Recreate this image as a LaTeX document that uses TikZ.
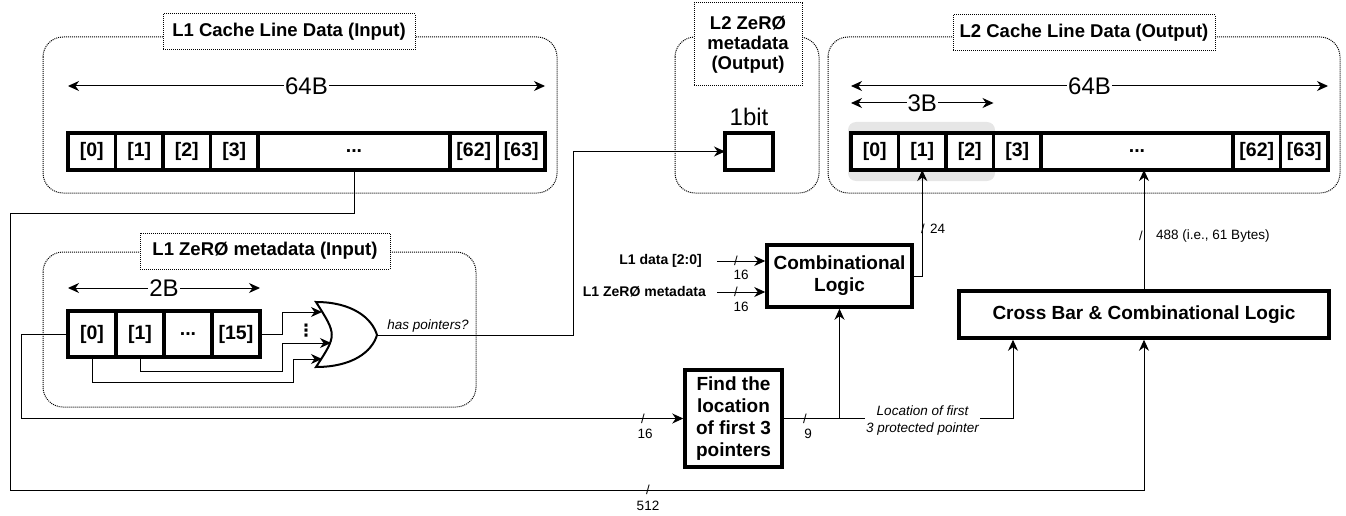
\documentclass[tikz,border=0pt]{standalone}
\usepackage{fontspec}
\setmainfont{Liberation Sans}
\newfontfamily\symbfont{DejaVu Sans}
\usetikzlibrary{arrows.meta,positioning}
\definecolor{hlGray}{HTML}{E6E6E6}

\begin{document}
\begin{tikzpicture}[x=1pt, y=-1pt,
    >={Stealth[length=11pt,width=10pt,inset=3.5pt]},
    grp/.style={draw, dash pattern=on 1pt off 1pt, line width=1pt, rounded corners=20pt},
    grptitle/.style={draw, fill=white, dash pattern=on 1pt off 1pt, line width=1pt, align=center, inner sep=2pt, font=\fontsize{18.5}{20}\selectfont\bfseries},
    cell/.style={draw, fill=white, line width=3.2pt, outer sep=0pt, inner sep=0pt, minimum width=47.5pt, minimum height=37pt, font=\fontsize{19.5}{21}\selectfont\bfseries},
    blk/.style={draw, fill=white, line width=3.5pt, align=center, inner sep=2pt, font=\fontsize{19}{22}\selectfont\bfseries},
    dimlbl/.style={fill=white, inner sep=1pt, font=\fontsize{24}{26}\selectfont},
    conn/.style={line width=1pt},
    arr/.style={conn, ->},
    bus/.style={inner sep=0pt, font=\fontsize{13}{15}\selectfont},
    buslbl/.style={inner sep=1pt, font=\fontsize{13.5}{15}\selectfont},
    inlbl/.style={inner sep=2pt, font=\fontsize{14}{16}\selectfont\bfseries},
    note/.style={inner sep=1pt, align=center, font=\fontsize{13.5}{17}\selectfont\itshape},
  ]
  \useasboundingbox (0,0) rectangle (1346,516);

  % Groups and their titles
  \draw[grp] (43,37) rectangle (557,193);
  \draw[grp] (43,252) rectangle (476,407);
  \draw[grp] (675,37) rectangle (819,193);
  \draw[grp] (828,37) rectangle (1340,193);
  \node[grptitle, minimum width=252pt, minimum height=36pt] (t1data) at (289,32) {L1 Cache Line Data (Input)};
  \node[grptitle, minimum width=250pt, minimum height=36pt] (t1meta) at (265,251) {L1 ZeRØ metadata (Input)};
  \node[grptitle, minimum width=108pt, minimum height=83pt] (t2meta) at (748,44.5) {L2 ZeRØ\\metadata\\(Output)};
  \node[grptitle, minimum width=262pt, minimum height=36pt] (t2data) at (1084,33) {L2 Cache Line Data (Output)};

  % L1 cache line
  \node[cell] (l1c0) at (91.75,151.5) {[0]};
  \node[cell, right=0pt of l1c0] (l1c1) {[1]};
  \node[cell, right=0pt of l1c1] (l1c2) {[2]};
  \node[cell, right=0pt of l1c2] (l1c3) {[3]};
  \node[cell, right=0pt of l1c3, minimum width=192pt] (l1cdots) {...};
  \node[cell, right=0pt of l1cdots] (l1c62) {[62]};
  \node[cell, right=0pt of l1c62] (l1c63) {[63]};
  \draw[conn, <->] ([yshift=47pt]l1c0.north west) -- ([yshift=47pt]l1c63.north east) node[midway, dimlbl] (l1w) {64B};

  % L1 metadata
  \node[cell, minimum width=48pt, minimum height=46pt] (m0) at (92,334) {[0]};
  \node[cell, minimum width=48pt, minimum height=46pt, right=0pt of m0] (m1) {[1]};
  \node[cell, minimum width=48pt, minimum height=46pt, right=0pt of m1] (mdots) {...};
  \node[cell, minimum width=48pt, minimum height=46pt, right=0pt of mdots] (m15) {[15]};
  \draw[conn, <->] ([yshift=23pt]m0.north west) -- ([yshift=23pt]m15.north east) node[midway, dimlbl] (mw) {2B};

  % OR gate
  \draw[line width=2pt, fill=white] (316,302) .. controls (352,302) and (372,318) .. (377,335)
    .. controls (372,352) and (352,367) .. (316,367) .. controls (337,335) .. (316,302) -- cycle;
  \coordinate (orout) at (377,335);
  \coordinate (gin1) at (322,312);
  \coordinate (gin2) at (331,343);
  \coordinate (gin3) at (322,359);
  \node[inner sep=0pt, font=\symbfont\bfseries\fontsize{17}{18}\selectfont] (ordots) at (306,331) {⋮};
  \draw[arr] (m15.east) -- ++(22,0) |- (gin1);
  \draw[arr] (m1.south) -- ++(0,14) -- ++(142,0) |- (gin2);
  \draw[arr] (m0.south) -- ++(0,25) -- ++(201,0) |- (gin3);

  % L2 metadata bit
  \node[cell, minimum width=48pt] (l2bit) at (749,151.5) {};
  \node[dimlbl] (bitlbl) at (749,117) {1bit};
  \draw[arr] (orout) -- ++(196,0) |- (l2bit.west);
  \node[note] (haspt) at (428,326) {has pointers?};

  % L2 cache line
  \fill[hlGray, rounded corners=8pt] (848,122) rectangle (995,181);
  \node[cell] (l2c0) at (874.75,151.5) {[0]};
  \node[cell, right=0pt of l2c0] (l2c1) {[1]};
  \node[cell, right=0pt of l2c1] (l2c2) {[2]};
  \node[cell, right=0pt of l2c2] (l2c3) {[3]};
  \node[cell, right=0pt of l2c3, minimum width=192pt] (l2cdots) {...};
  \node[cell, right=0pt of l2cdots] (l2c62) {[62]};
  \node[cell, right=0pt of l2c62] (l2c63) {[63]};
  \draw[conn, <->] ([yshift=47pt]l2c0.north west) -- ([yshift=47pt]l2c63.north east) node[midway, dimlbl] (l2w) {64B};
  \draw[conn, <->] ([yshift=30pt]l2c0.north west) -- ([yshift=30pt]l2c2.north east) node[midway, dimlbl] (l2w3) {3B};

  % Logic blocks
  \node[blk, minimum width=145pt, minimum height=62pt] (comb) at (839.5,276) {Combinational\\Logic};
  \node[blk, minimum width=97pt, minimum height=97pt] (find) at (733.5,418.5) {Find the\\location\\of first 3\\pointers};
  \node[blk, minimum width=370pt, minimum height=47pt] (xbar) at (1144,314.5) {Cross Bar \& Combinational Logic};
  \coordinate (locx) at (1013,0);

  % Inputs of the combinational logic
  \node[inlbl, anchor=east] (l1dat) at (704,261) {L1 data [2:0]};
  \node[inlbl, anchor=east] (l1meta) at (708,292) {L1 ZeRØ metadata};
  \draw[arr] ([xshift=13pt]l1dat.east) -- (l1dat.east -| comb.west);
  \draw[arr] ([xshift=9pt]l1meta.east) -- (l1meta.east -| comb.west);
  \node[bus] (s16a) at (736,261) {/};
  \node[buslbl] (n16a) at (741,275) {16};
  \node[bus] (s16b) at (736,292) {/};
  \node[buslbl] (n16b) at (741,307) {16};

  % Buses
  \draw[arr] (comb.east) -| (l2c1.south);
  \node[bus] (s24) at (923,229) {/};
  \node[buslbl, anchor=west] (n24) at (929,229) {24};
  \draw[arr] (xbar.north) -- (l2cdots.south -| xbar.north);
  \node[bus] (s488) at (1141,236) {/};
  \node[buslbl, anchor=west] (n488) at (1155,236) {488 (i.e., 61 Bytes)};

  \draw[arr] (m0.west) -- ++(-47,0) |- (find.west);
  \node[bus] (s16c) at (643,419) {/};
  \node[buslbl] (n16c) at (645,434) {16};
  \draw[arr] (find.east) -| (comb.south);
  \draw[arr] (find.east) -| (xbar.south -| locx);
  \node[bus] (s9) at (805,419) {/};
  \node[buslbl] (n9) at (808,434) {9};
  \node[note, fill=white] (locl) at (922.5,420.5) {Location of first\\3 protected pointer};

  \draw[arr] (l1cdots.south) -- ++(0,43) -| (10,490) -| (xbar.south);
  \node[bus] (s512) at (648,490) {/};
  \node[buslbl] (n512) at (648,506) {512};
\end{tikzpicture}
\end{document}
